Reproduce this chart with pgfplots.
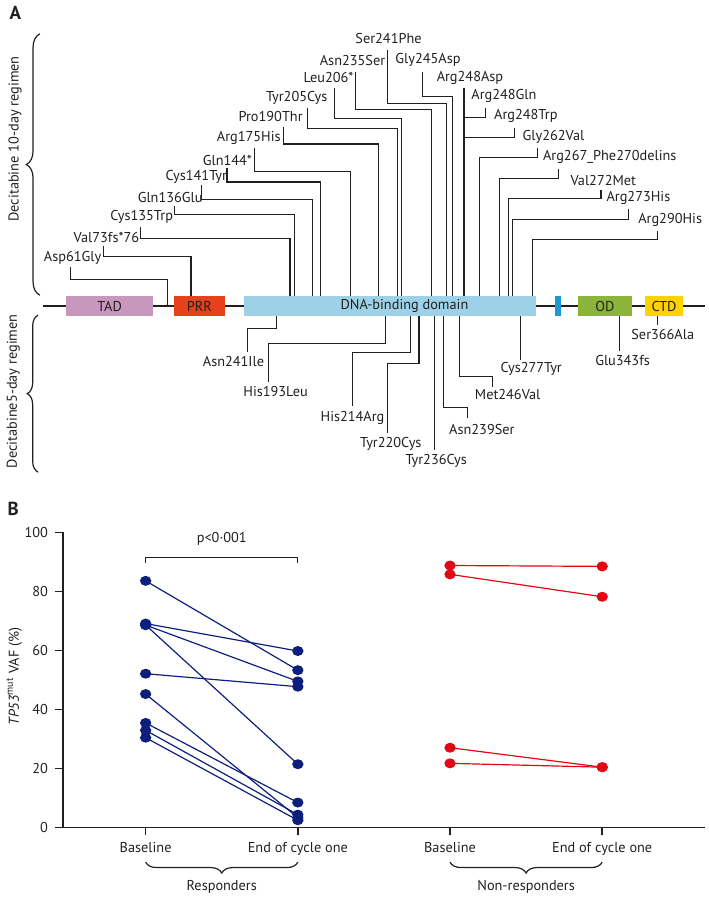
\documentclass[border=0pt]{standalone}
\usepackage{pgfplots}
\pgfplotsset{compat=1.18}
\usepackage{fontspec}
\setmainfont{PT Sans}
\usetikzlibrary{decorations.pathreplacing}
\definecolor{tadc}{HTML}{C797BE}
\definecolor{prrc}{HTML}{E5411C}
\definecolor{dbdc}{HTML}{9DD1E7}
\definecolor{tetc}{HTML}{1C9AD0}
\definecolor{odc}{HTML}{8BB43B}
\definecolor{ctdc}{HTML}{FFD200}
\definecolor{navy}{HTML}{0D1F7C}
\definecolor{redc}{HTML}{E30613}
\definecolor{ink}{HTML}{231F20}
\newcommand{\lbl}{\fontsize{7.2}{8}\selectfont}
\begin{document}
\begin{tikzpicture}
% ---------------- Panel A (pixel coordinates) ----------------
\begin{axis}[
  at={(0,0)}, anchor=north west,
  width=354.5pt, height=450pt, scale only axis,
  xmin=0, xmax=709, ymin=-900, ymax=0,
  hide axis, clip=false, no markers,
  conn/.style={ink, line width=0.55pt},
  dom/.style={draw=none},
]
\path (axis cs:0,0) rectangle (axis cs:709,-900);
\node[font=\fontsize{9.5}{11}\selectfont\bfseries, text=ink] at (axis cs:12,-11) {A};
\node[font=\fontsize{9.5}{11}\selectfont\bfseries, text=ink] at (axis cs:10,-510) {B};
% backbone
\addplot[ink, line width=0.7pt] coordinates {(40,-306) (707,-306)};
% domains
\addplot[dom, fill=tadc] coordinates {(63,-296)(151,-296)(151,-316)(63,-316)} -- cycle;
\addplot[dom, fill=prrc] coordinates {(172,-296)(223,-296)(223,-316)(172,-316)} -- cycle;
\addplot[dom, fill=dbdc] coordinates {(242,-296)(537,-296)(537,-316)(242,-316)} -- cycle;
\addplot[dom, fill=tetc] coordinates {(556,-296)(562,-296)(562,-316)(556,-316)} -- cycle;
\addplot[dom, fill=odc] coordinates {(579,-296)(633,-296)(633,-316)(579,-316)} -- cycle;
\addplot[dom, fill=ctdc] coordinates {(646,-296)(685,-296)(685,-316)(646,-316)} -- cycle;
\node[font=\lbl, text=ink] at (axis cs:107,-306) {TAD};
\node[font=\lbl, text=ink] at (axis cs:197.5,-306) {PRR};
\node[font=\lbl, text=ink] at (axis cs:404,-306) {DNA-binding domain};
\node[font=\lbl, text=ink] at (axis cs:606,-306) {OD};
\node[font=\lbl, text=ink] at (axis cs:665.5,-306) {CTD};
% upper connectors (10-day)
\addplot[conn] coordinates {(67.7,-266.7)(67.7,-279.3)(165.7,-279.3)(165.7,-306)};
\addplot[conn] coordinates {(100.7,-245)(100.7,-255.7)(189,-255.7)(189,-296)};
\addplot[conn] coordinates {(137.7,-226)(137.7,-237.7)(288.7,-237.7)(288.7,-296)};
\addplot[conn] coordinates {(172.7,-205)(172.7,-213.3)(293.3,-213.3)(293.3,-296)};
\addplot[conn] coordinates {(200,-184)(200,-198.3)(311.7,-198.3)(311.7,-296)};
\addplot[conn] coordinates {(225.3,-167)(225.3,-181)(319.3,-181)(319.3,-296)};
\addplot[conn] coordinates {(253.3,-146.7)(253.3,-170.7)(350,-170.7)(350,-296)};
\addplot[conn] coordinates {(282,-125.7)(282,-142.7)(378.3,-142.7)(378.3,-296)};
\addplot[conn] coordinates {(306.7,-106.7)(306.7,-126.7)(396.7,-126.7)(396.7,-296)};
\addplot[conn] coordinates {(333.3,-86)(333.3,-116.7)(400.7,-116.7)(400.7,-296)};
\addplot[conn] coordinates {(354.3,-70)(354.3,-108.3)(431.7,-108.3)(431.7,-296)};
\addplot[conn] coordinates {(386.7,-48.3)(386.7,-101.7)(446.7,-101.7)(446.7,-296)};
\addplot[conn] coordinates {(422.3,-70)(422.3,-95)(452.7,-95)(452.7,-296)};
\addplot[conn] coordinates {(464,-86)(464,-296)};
\addplot[conn] coordinates {(485.7,-106)(485.7,-116)(464,-116)};
\addplot[conn] coordinates {(515,-126.7)(515,-136)(464,-136)};
\addplot[conn] coordinates {(538.3,-146.7)(538.3,-156)(480,-156)(480,-296)};
\addplot[conn] coordinates {(559.3,-167.7)(559.3,-177.3)(499.3,-177.3)(499.3,-296)};
\addplot[conn] coordinates {(602,-189)(602,-197.3)(508.7,-197.3)(508.7,-296)};
\addplot[conn] coordinates {(630,-208.3)(630,-218.3)(512.7,-218.3)(512.7,-296)};
\addplot[conn] coordinates {(659.3,-230)(659.3,-238.7)(533.3,-238.7)(533.3,-296)};
% upper labels
\begin{scope}[every node/.style={font=\lbl, text=ink}]
\node at (axis cs:69.7,-257.3) {Asp61Gly};
\node at (axis cs:103.8,-237.3) {Val73fs*76};
\node at (axis cs:139.3,-216) {Cys135Trp};
\node at (axis cs:168,-196.7) {Gln136Glu};
\node at (axis cs:194.3,-175.7) {Cys141Tyr};
\node at (axis cs:225.7,-159.3) {Gln144*};
\node at (axis cs:247.2,-136.7) {Arg175His};
\node at (axis cs:269.2,-115) {Pro190Thr};
\node at (axis cs:295.5,-96.7) {Tyr205Cys};
\node at (axis cs:327.5,-76) {Leu206*};
\node at (axis cs:351.7,-58.3) {Asn235Ser};
\node at (axis cs:388,-36) {Ser241Phe};
\node at (axis cs:427.7,-58.3) {Gly245Asp};
\node at (axis cs:470,-76) {Arg248Asp};
\node at (axis cs:504.2,-94.3) {Arg248Gln};
\node at (axis cs:526.3,-114) {Arg248Trp};
\node at (axis cs:554.2,-136) {Gly262Val};
\node at (axis cs:610.8,-155.3) {Arg267\_Phe270delins};
\node at (axis cs:604.3,-179) {Val272Met};
\node at (axis cs:639.7,-196.7) {Arg273His};
\node at (axis cs:671.7,-218.7) {Arg290His};
% lower labels
\node at (axis cs:231.8,-361.7) {Asn241Ile};
\node at (axis cs:274.2,-392.3) {His193Leu};
\node at (axis cs:351.7,-418.3) {His214Arg};
\node at (axis cs:390.3,-445) {Tyr220Cys};
\node at (axis cs:436,-461.7) {Tyr236Cys};
\node at (axis cs:482,-430) {Asn239Ser};
\node at (axis cs:508,-395) {Met246Val};
\node at (axis cs:531.7,-369) {Cys277Tyr};
\node at (axis cs:623.7,-361) {Glu343fs};
\node at (axis cs:664.2,-335) {Ser366Ala};
\node[rotate=90] at (axis cs:11.7,-137.5) {Decitabine 10-day regimen};
\node[rotate=90] at (axis cs:10,-391.7) {Decitabine5-day regimen};
\node[rotate=90] at (axis cs:11,-679) {\textit{TP53}\textsuperscript{mut} VAF (\%)};
\end{scope}
% lower connectors (5-day)
\addplot[conn] coordinates {(275,-316)(275,-328.3)(245.7,-328.3)(245.7,-352)};
\addplot[conn] coordinates {(385,-316)(385,-343.3)(267.3,-343.3)(267.3,-382)};
\addplot[conn] coordinates {(410,-316)(410,-352.7)(351.7,-352.7)(351.7,-407)};
\addplot[conn] coordinates {(418.7,-316)(418.7,-364)(386.7,-364)(386.7,-434)};
\addplot[conn] coordinates {(434,-316)(434,-451)};
\addplot[conn] coordinates {(443.3,-316)(443.3,-408.3)(467.3,-408.3)(467.3,-419)};
\addplot[conn] coordinates {(459.3,-316)(459.3,-377.3)(492.7,-377.3)(492.7,-387)};
\addplot[conn] coordinates {(520.7,-316)(520.7,-360)};
\addplot[conn] coordinates {(621,-316)(621,-351)};
\addplot[conn] coordinates {(658.7,-316)(658.7,-325)};
% left braces
\draw[ink, line width=0.6pt, decorate, decoration={brace, amplitude=6.8pt}]
  (axis cs:36.7,-295) -- (axis cs:36.7,-31.7);
\draw[ink, line width=0.6pt, decorate, decoration={brace, amplitude=5.5pt}]
  (axis cs:35,-473.3) -- (axis cs:35,-315);
\end{axis}
% ---------------- Panel B ----------------
\begin{axis}[
  at={(30pt,-415.5pt)}, anchor=south west,
  width=323.5pt, height=148.5pt, scale only axis,
  xmin=0.4566, xmax=4.677, ymin=0, ymax=100,
  axis x line*=bottom, axis y line*=left,
  axis line style={ink, line width=0.75pt, -},
  xtick={1,2,3,4},
  xticklabels={Baseline,End of cycle one,Baseline,End of cycle one},
  ytick={0,20,40,60,80,100},
  tick align=outside, major tick length=4pt,
  tick style={ink, line width=0.75pt},
  ticklabel style={font=\lbl, text=ink},
  /pgf/number format/assume math mode=true,
  clip=false,
  resp/.style={navy, line width=0.6pt, mark=*, mark size=2.2pt,
    mark options={fill=navy, draw=navy, xscale=1.15}},
  nonr/.style={redc, line width=0.6pt, mark=*, mark size=2.2pt,
    mark options={fill=redc, draw=redc, xscale=1.15}},
]
\draw[ink, line width=0.75pt] (axis cs:0.4045,0) -- (axis cs:0.4566,0);
% responders
\addplot[resp] coordinates {(1,83.6) (2,53.3)};
\addplot[resp] coordinates {(1,69.1) (2,59.8)};
\addplot[resp] coordinates {(1,68.6) (2,49.5)};
\addplot[resp] coordinates {(1,68.6) (2,21.4)};
\addplot[resp] coordinates {(1,52.1) (2,47.7)};
\addplot[resp] coordinates {(1,45.2) (2,3.3)};
\addplot[resp] coordinates {(1,35.4) (2,8.4)};
\addplot[resp] coordinates {(1,32.9) (2,4.3)};
\addplot[resp] coordinates {(1,30.4) (2,2.4)};
% non-responders
\addplot[nonr] coordinates {(3,88.8) (4,88.5)};
\addplot[nonr] coordinates {(3,85.8) (4,78.2)};
\addplot[nonr] coordinates {(3,27.0) (4,20.4)};
\addplot[nonr] coordinates {(3,21.7) (4,20.4)};
% significance bracket
\draw[ink, line width=0.6pt] (axis cs:1,89.6) |- (axis cs:2,91.5) -- (axis cs:2,89.6);
\node[font=\lbl, text=ink] at (axis cs:1.5,98.0) {p<0·001};
% group braces
\draw[ink, line width=0.6pt, decorate, decoration={brace, amplitude=5.5pt}]
  (axis cs:2,-11.8) -- (axis cs:1,-11.8);
\draw[ink, line width=0.6pt, decorate, decoration={brace, amplitude=5.5pt}]
  (axis cs:4,-11.8) -- (axis cs:3,-11.8);
\node[font=\lbl, text=ink] at (axis cs:1.5,-20.2) {Responders};
\node[font=\lbl, text=ink] at (axis cs:3.5,-20.2) {Non-responders};
\end{axis}
\end{tikzpicture}
\end{document}
